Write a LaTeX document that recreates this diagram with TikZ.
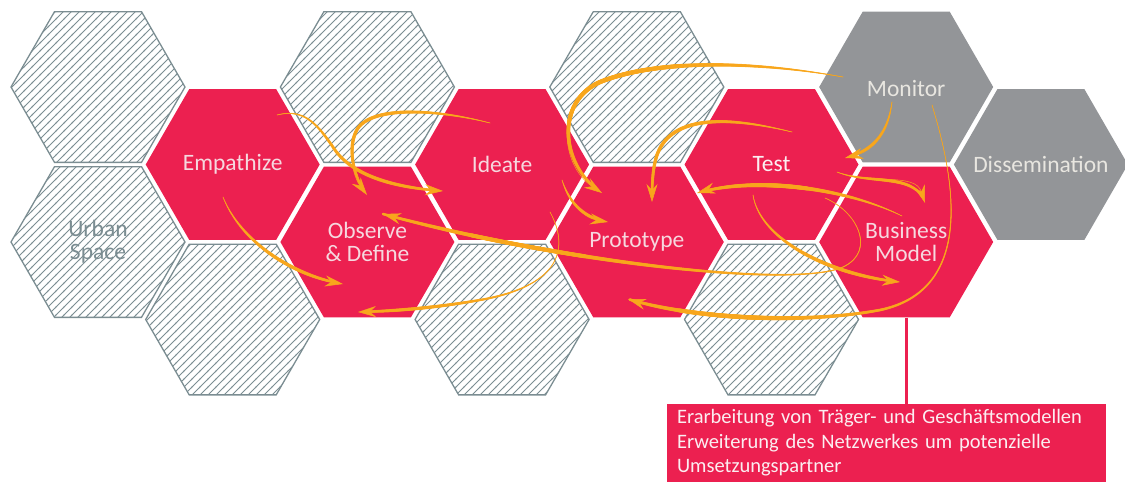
\documentclass[tikz,border=0pt]{standalone}
\usepackage{fontspec}
\setmainfont{Carlito}
\usetikzlibrary{shapes.geometric,arrows.meta,decorations.markings,patterns}
\definecolor{hexred}{HTML}{EC2050}
\definecolor{hexgray}{HTML}{939598}
\definecolor{slate}{HTML}{7B8D92}
\definecolor{arrowc}{HTML}{F8A61C}
\definecolor{redtext}{HTML}{F6D8DF}
\definecolor{graytext}{HTML}{E8E6E0}
\definecolor{notetext}{HTML}{FBEEF1}
\pgfdeclarepatternformonly{hexhatch}{\pgfqpoint{-1pt}{-1pt}}{\pgfqpoint{9pt}{9pt}}{\pgfqpoint{8pt}{8pt}}{%
  \pgfsetlinewidth{0.75pt}%
  \pgfpathmoveto{\pgfqpoint{-1pt}{-1pt}}%
  \pgfpathlineto{\pgfqpoint{9pt}{9pt}}%
  \pgfusepath{stroke}%
}
\tikzset{
  hexbase/.style={regular polygon, regular polygon sides=6, minimum size=174pt,
    inner sep=0pt},
  hatched/.style={hexbase, draw=slate, line width=1.3pt, pattern=hexhatch,
    pattern color=slate},
  redhex/.style={hexbase, fill=hexred},
  grayhex/.style={hexbase, fill=hexgray},
  hexlab/.style={inner sep=0pt, align=center, font=\fontsize{23.5}{23}\selectfont},
  notebox/.style={fill=hexred, text=notetext, minimum width=439pt, minimum height=78pt,
    text width=419pt, inner xsep=10pt, inner ysep=0pt, align=left,
    font=\fontsize{20.5}{24.5}\selectfont},
  brush/.style 2 args={draw=arrowc, line width=0.5pt,
    -{Stealth[length=18pt,width=11pt,inset=6pt]},
    postaction={decorate, decoration={markings,
      mark=between positions 0 and -7pt step 0.5pt with {%
        \pgfmathsetmacro\brushr{0.3+#1*sin(150*((\pgfkeysvalueof{/pgf/decoration/mark info/distance from start})/(\pgfdecoratedpathlength))^(#2))}%
        \fill[arrowc] (0,0) circle[radius=\brushr pt];
      }}}}
}
\begin{document}
\begin{tikzpicture}[x=1pt,y=-1pt]
\useasboundingbox (0,0) rectangle (1125,483);
% hexagons
\node[hatched] (h1) at (98,87) {};
\node[hatched] (urban) at (98,242) {};
\node[redhex] (emp) at (232.7,164.5) {};
\node[hatched] (h2) at (232.7,319.5) {};
\node[hatched] (h3) at (367.4,87) {};
\node[redhex] (obs) at (367.4,242) {};
\node[redhex] (ide) at (502.1,164.5) {};
\node[hatched] (h4) at (502.1,319.5) {};
\node[hatched] (h5) at (636.8,87) {};
\node[redhex] (pro) at (636.8,242) {};
\node[redhex] (tst) at (771.5,164.5) {};
\node[hatched] (h6) at (771.5,319.5) {};
\node[grayhex] (mon) at (906.2,87) {};
\node[redhex] (bm) at (906.2,242) {};
\node[grayhex] (dis) at (1040.9,164.5) {};
% labels
\node[hexlab, text=slate] (urban-t) at (urban) {Urban\\Space};
\node[hexlab, text=redtext] (emp-t) at (emp) {Empathize};
\node[hexlab, text=redtext] (obs-t) at (obs) {Observe\\\& Define};
\node[hexlab, text=redtext] (ide-t) at (ide) {Ideate};
\node[hexlab, text=redtext] (pro-t) at (pro) {Prototype};
\node[hexlab, text=redtext!40!white] (tst-t) at (tst) {Test};
\node[hexlab, text=graytext] (mon-t) at ([yshift=-1.5pt]mon.center) {Monitor};
\node[hexlab, text=redtext] (bm-t) at (bm) {Business\\Model};
\node[hexlab, text=graytext] (dis-t) at (dis) {Dissemination};
% note
\node[notebox] (note) at (886.5,443) {Erarbeitung von Träger- und Geschäftsmodellen\\Erweiterung des Netzwerkes um potenzielle\\Umsetzungspartner};
\draw[hexred, line width=3pt] (bm.south) -- (bm.south |- note.north);
% arrow end points
\coordinate (a-s) at (277,115);  \coordinate (a-e) at (443,191);
\coordinate (b-s) at (490,123);  \coordinate (b-e) at (367,195);
\coordinate (c-s) at (825,198);  \coordinate (c-e) at (383,214);
\coordinate (d-s) at (902,216);  \coordinate (d-e) at (697,193);
\coordinate (f-s) at (753,195);  \coordinate (f-e) at (900,282);
\coordinate (g-s) at (932,105);  \coordinate (g-e) at (628,299);
\coordinate (h-s) at (837,172);  \coordinate (h-e) at (925,203);
\coordinate (i-s) at (892,102);  \coordinate (i-e) at (845,158);
\coordinate (j-s) at (843,77);   \coordinate (j-e) at (602,193);
\coordinate (k-s) at (792,132);  \coordinate (k-e) at (652,202);
\coordinate (l-s) at (562,180);  \coordinate (l-e) at (608,222);
\coordinate (m-s) at (550,212);  \coordinate (m-e) at (358,312);
\coordinate (n-s) at (223,197);  \coordinate (n-e) at (343,284);
% arrows
\draw[brush={1.5}{1}] (a-s) .. controls (305,108) and (318,125) .. (335,150) .. controls (355,178) and (400,188) .. (a-e);
\draw[brush={1.5}{1}] (b-s) .. controls (440,110) and (375,105) .. (358,128) .. controls (347,145) and (352,175) .. (b-e);
\draw[brush={1.8}{1.6}] (c-s) .. controls (858,212) and (875,250) .. (845,266) .. controls (800,290) and (560,262) .. (c-e);
\draw[brush={1.8}{1}] (d-s) .. controls (850,190) and (760,175) .. (d-e);
\draw[brush={1.6}{1}] (f-s) .. controls (760,240) and (830,275) .. (f-e);
\draw[brush={1.9}{2}] (g-s) .. controls (955,180) and (975,290) .. (880,310) .. controls (800,325) and (690,318) .. (g-e);
\draw[brush={1.3}{1}] (h-s) .. controls (870,185) and (915,172) .. (h-e);
\draw[brush={1.2}{1}] (i-s) .. controls (888,132) and (875,150) .. (i-e);
\draw[brush={1.9}{1}] (j-s) .. controls (760,62) and (660,58) .. (600,82) .. controls (555,102) and (560,165) .. (j-e);
\draw[brush={1.6}{1}] (k-s) .. controls (735,118) and (672,112) .. (657,155) .. controls (652,170) and (652,188) .. (k-e);
\draw[brush={1.3}{1}] (l-s) .. controls (570,205) and (585,218) .. (l-e);
\draw[brush={1.4}{2}] (m-s) .. controls (568,245) and (565,285) .. (480,300) .. controls (440,307) and (400,311) .. (m-e);
\draw[brush={1.5}{1}] (n-s) .. controls (240,240) and (290,275) .. (n-e);
\end{tikzpicture}
\end{document}
